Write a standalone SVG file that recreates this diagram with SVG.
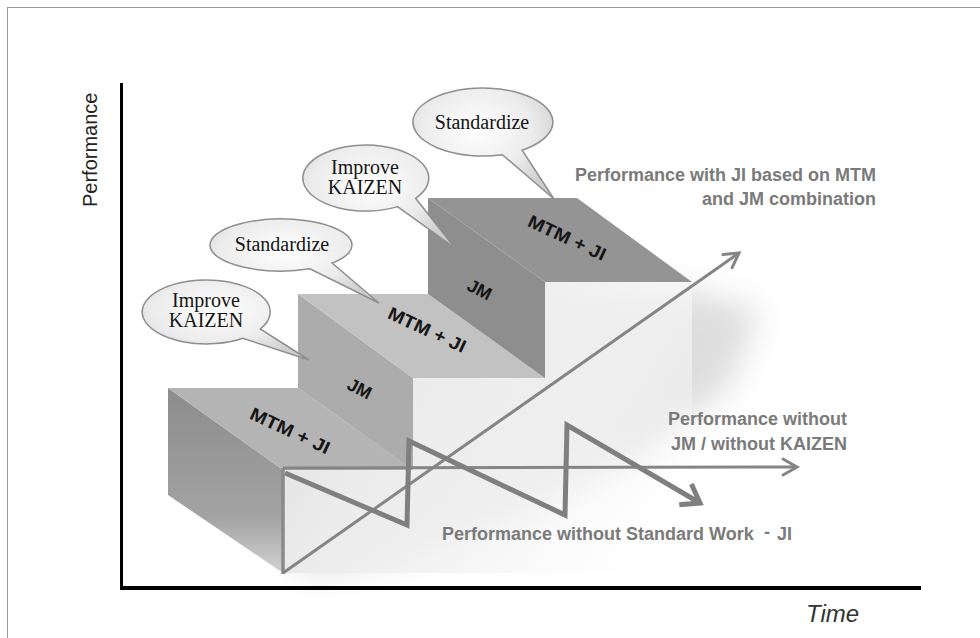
<svg xmlns="http://www.w3.org/2000/svg" width="980" height="638" viewBox="0 0 980 638">
<style>
.lbl{font-family:"Liberation Sans",Arial,sans-serif;font-weight:bold;font-size:18px;fill:#7a7a7a}
.step{font-family:"Liberation Sans",Arial,sans-serif;font-weight:bold;font-size:18px;fill:#151515}
.bub{font-family:"Liberation Serif","Times New Roman",serif;font-size:20px;fill:#151515;text-anchor:middle}
.bubshape{fill:url(#bubGrad);stroke:#8e8e8e;stroke-width:1.5}
.conn{fill:none;stroke:#858585;stroke-width:3}
</style>
<defs>
<radialGradient id="bubGrad" cx="0.45" cy="0.38" r="0.65">
<stop offset="0" stop-color="#ffffff"/>
<stop offset="0.6" stop-color="#ececec"/>
<stop offset="1" stop-color="#cdcdcd"/>
</radialGradient>
<linearGradient id="riser1Grad" x1="0" y1="0" x2="0" y2="1">
<stop offset="0" stop-color="#8c8c8c"/>
<stop offset="0.7" stop-color="#a3a3a3"/>
<stop offset="1" stop-color="#d2d2d2"/>
</linearGradient>
<linearGradient id="endGrad" gradientUnits="userSpaceOnUse" x1="283" y1="300" x2="692" y2="560">
<stop offset="0" stop-color="#dedede"/>
<stop offset="0.35" stop-color="#ececec"/>
<stop offset="0.7" stop-color="#f6f6f6" stop-opacity="0.7"/>
<stop offset="1" stop-color="#ffffff" stop-opacity="0"/>
</linearGradient>
<filter id="blur" x="-50%" y="-50%" width="200%" height="200%">
<feGaussianBlur stdDeviation="16"/>
</filter>
<marker id="arrowThin" viewBox="0 0 20 20" refX="18" refY="10" markerWidth="20" markerHeight="20" markerUnits="userSpaceOnUse" orient="auto" overflow="visible">
<path d="M4,2 L18,10 L4,18" fill="none" stroke="#858585" stroke-width="3" stroke-linecap="round"/>
</marker>
<marker id="arrowThick" viewBox="0 0 28 28" refX="25" refY="14" markerWidth="28" markerHeight="28" markerUnits="userSpaceOnUse" orient="auto" overflow="visible">
<path d="M8,2 L25,14 L8,26" fill="none" stroke="#7f7f7f" stroke-width="5"/>
</marker>
</defs>

<rect x="0" y="0" width="980" height="638" fill="#ffffff"/>
<rect id="frame" x="7.5" y="7.5" width="1000" height="700" fill="none" stroke="#9a9a9a" stroke-width="1"/>

<g id="staircase">
<polygon id="shadow" points="560,295 690,290 760,310 730,385 640,455 520,515 390,560 300,575 300,480" fill="#bcbcbc" opacity="0.5" filter="url(#blur)"/>
<polygon id="end-face" points="283,470 413,470 413,378 545,378 545,282 692,282 692,573 283,573" fill="url(#endGrad)"/>
<g id="step1">
<polygon points="168,388 283,470 283,573 168,495" fill="url(#riser1Grad)"/>
<polygon points="168,388 298,388 413,470 283,470" fill="#b4b4b4"/>
<text class="step" transform="translate(290,431) rotate(25)" x="0" y="6" text-anchor="middle" textLength="86" lengthAdjust="spacingAndGlyphs">MTM + JI</text>
</g>
<g id="step2">
<polygon points="298,294 413,378 413,470 298,388" fill="#acacac"/>
<polygon points="298,294 428,294 545,378 413,378" fill="#c2c2c2"/>
<text class="step" transform="translate(360,388) rotate(27)" x="0" y="7" text-anchor="middle" font-size="20">JM</text>
<text class="step" transform="translate(427,330) rotate(25)" x="0" y="6" text-anchor="middle" textLength="84" lengthAdjust="spacingAndGlyphs">MTM + JI</text>
</g>
<g id="step3">
<polygon points="428,198 545,282 545,378 428,294" fill="#8e8e8e"/>
<polygon points="428,198 577,198 692,282 545,282" fill="#949494"/>
<text class="step" transform="translate(480,289) rotate(27)" x="0" y="7" text-anchor="middle" font-size="20">JM</text>
<text class="step" transform="translate(567,238) rotate(25)" x="0" y="6" text-anchor="middle" textLength="84" lengthAdjust="spacingAndGlyphs">MTM + JI</text>
</g>
<line x1="283" y1="468" x2="283" y2="574" stroke="#8a8a8a" stroke-width="3.5"/>
</g>

<g id="connectors">
<line id="with-ji" class="conn" x1="283" y1="573" x2="739" y2="253" marker-end="url(#arrowThin)"/>
<line id="without-jm" class="conn" x1="283" y1="468" x2="797" y2="467" marker-end="url(#arrowThin)"/>
<polyline id="without-sw" points="285,473 407,525 409,441 565,515 567,425 700,503" fill="none" stroke="#7f7f7f" stroke-width="5" stroke-linejoin="miter" marker-end="url(#arrowThick)"/>
</g>

<g id="bubble1">
<path class="bubshape" d="M260.3,329 A64,32 0 1 0 242.7,338.2 L309,360 Z"/>
<text class="bub" x="206" y="307">Improve</text>
<text class="bub" x="206" y="327">KAIZEN</text>
</g>
<g id="bubble2">
<path class="bubshape" d="M332.1,263.1 A71,26 0 1 0 309.9,268.8 L379,303 Z"/>
<text class="bub" x="282" y="251">Standardize</text>
</g>
<g id="bubble3">
<path class="bubshape" d="M415.6,198.3 A63,33 0 1 0 397.5,206.6 L455,248 Z"/>
<text class="bub" x="365" y="174">Improve</text>
<text class="bub" x="365" y="194">KAIZEN</text>
</g>
<g id="bubble4">
<path class="bubshape" d="M522.1,150.2 A70,34 0 1 0 502.3,154.7 L554,199 Z"/>
<text class="bub" x="482" y="129">Standardize</text>
</g>

<g id="labels">
<text class="lbl" x="876" y="181" text-anchor="end">Performance with JI based on MTM</text>
<text class="lbl" x="876" y="205" text-anchor="end">and JM combination</text>
<text class="lbl" x="847" y="425" text-anchor="end">Performance without</text>
<text class="lbl" x="847" y="450" text-anchor="end">JM / without KAIZEN</text>
<text class="lbl" x="442" y="540">Performance without Standard Work</text>
<text class="lbl" x="764" y="538" font-size="20" fill="#6a6a6a">-</text>
<text class="lbl" x="777" y="540" font-size="23" fill="#6a6a6a">JI</text>
</g>

<g id="axes">
<line x1="121.5" y1="83" x2="121.5" y2="590" stroke="#000" stroke-width="3"/>
<line x1="120" y1="588" x2="921" y2="588" stroke="#000" stroke-width="4"/>
<text transform="translate(97,207) rotate(-90)" x="0" y="0" font-family="Liberation Sans, Arial, sans-serif" font-size="20" fill="#222">Performance</text>
<text x="806" y="622" font-family="Liberation Sans, Arial, sans-serif" font-style="italic" font-size="24" fill="#333">Time</text>
</g>
</svg>
